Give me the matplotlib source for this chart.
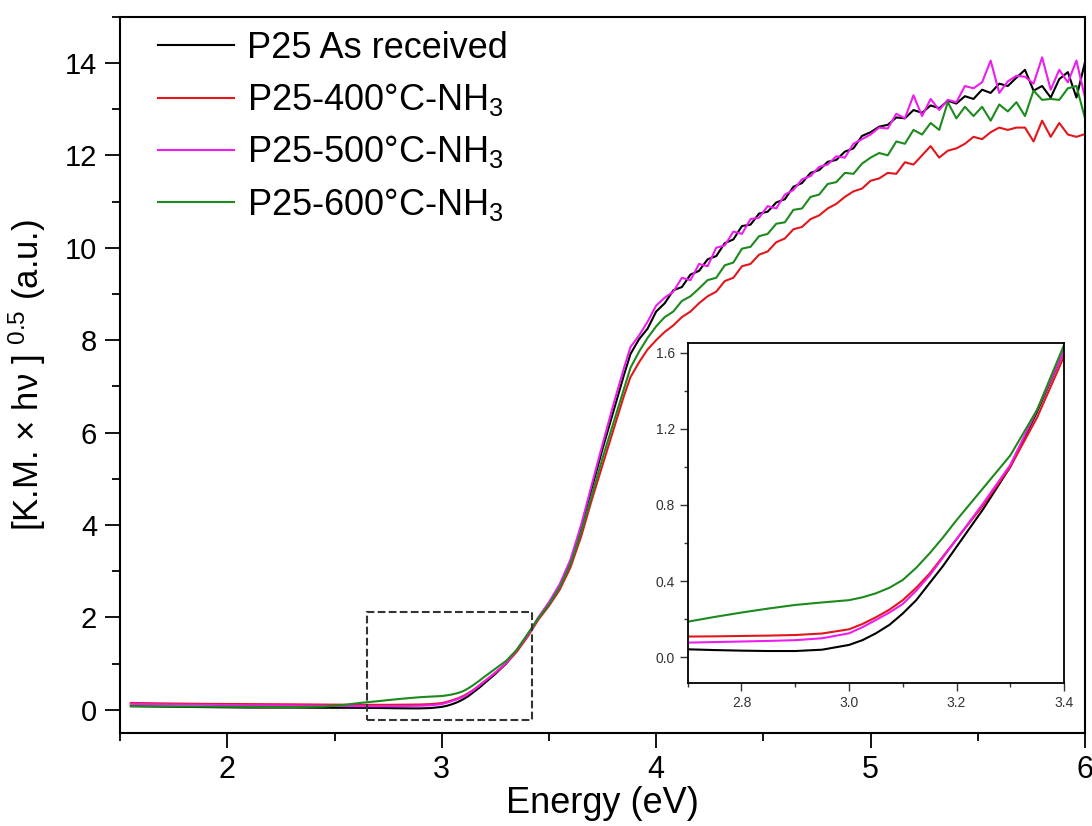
import numpy as np
import matplotlib
matplotlib.use("Agg")
import matplotlib.pyplot as plt
from matplotlib.patches import Rectangle
from matplotlib.ticker import MultipleLocator
from matplotlib import font_manager

names = {f.name for f in font_manager.fontManager.ttflist}
fam = [f for f in ['Liberation Sans Narrow', 'Liberation Sans', 'DejaVu Sans'] if f in names]
plt.rcParams['font.family'] = fam
plt.rcParams['mathtext.fontset'] = 'custom'
plt.rcParams['mathtext.rm'] = fam[0]
plt.rcParams['mathtext.it'] = fam[0] + ':italic'

# energy grid (eV): coarse in the flat part, finer at the edge, 0.04 steps above 3.9
energy_low = [1.55, 1.7, 1.9, 2.1, 2.3, 2.45, 2.55, 2.6, 2.65, 2.7, 2.75, 2.8, 2.85,
              2.9, 2.95, 3.0, 3.025, 3.05, 3.075, 3.1, 3.125, 3.15, 3.175, 3.2, 3.25,
              3.3, 3.35, 3.4, 3.45, 3.5, 3.55, 3.6, 3.65, 3.7, 3.75, 3.8, 3.85, 3.88]
energy_high = np.round(np.arange(3.92, 6.001, 0.04), 2)
energy = np.concatenate([energy_low, energy_high])

black_low = [0.08, 0.07, 0.06, 0.05, 0.05, 0.045, 0.045, 0.044, 0.043, 0.042, 0.038, 0.035, 0.033,
             0.033, 0.04, 0.065, 0.09, 0.126, 0.17, 0.23, 0.30, 0.39, 0.48, 0.58, 0.78,
             1.0, 1.29, 1.61, 1.98, 2.3, 2.68, 3.2, 3.95, 4.8, 5.65, 6.45, 7.25, 7.7]
black_high = [8.02, 8.25, 8.62, 8.80, 9.08, 9.15, 9.42, 9.50, 9.75, 9.82, 10.10, 10.18, 10.47,
              10.50, 10.74, 10.78, 10.98, 11.05, 11.32, 11.40, 11.62, 11.68, 11.86, 11.90,
              12.08, 12.15, 12.42, 12.50, 12.62, 12.66, 12.82, 12.80, 12.98, 12.92, 13.08,
              13.02, 13.18, 13.12, 13.28, 13.22, 13.42, 13.35, 13.55, 13.50, 13.68, 13.85,
              13.40, 13.50, 13.25, 13.65, 13.80, 13.25, 14.02]

red_low = [0.15, 0.14, 0.13, 0.125, 0.12, 0.115, 0.112, 0.11, 0.11, 0.109, 0.11, 0.112, 0.114,
           0.117, 0.125, 0.147, 0.175, 0.21, 0.25, 0.30, 0.365, 0.44, 0.53, 0.62, 0.80,
           1.0, 1.26, 1.58, 1.95, 2.25, 2.6, 3.08, 3.75, 4.55, 5.3, 6.05, 6.8, 7.2]
red_high = [7.52, 7.80, 8.00, 8.18, 8.32, 8.50, 8.62, 8.80, 8.95, 9.05, 9.28, 9.35, 9.60,
            9.65, 9.85, 9.92, 10.12, 10.20, 10.40, 10.45, 10.62, 10.70, 10.85, 10.95,
            11.10, 11.22, 11.28, 11.45, 11.50, 11.62, 11.60, 11.85, 11.80, 12.00, 12.20,
            11.95, 12.10, 12.15, 12.25, 12.40, 12.35, 12.50, 12.60, 12.55, 12.60, 12.60,
            12.30, 12.75, 12.40, 12.70, 12.45, 12.40, 12.46]

magenta_low = [0.13, 0.12, 0.11, 0.10, 0.095, 0.09, 0.085, 0.082, 0.08, 0.077, 0.08, 0.083, 0.086,
               0.09, 0.10, 0.126, 0.158, 0.196, 0.235, 0.28, 0.35, 0.43, 0.525, 0.62, 0.81,
               1.01, 1.30, 1.61, 2.0, 2.33, 2.72, 3.25, 4.0, 4.88, 5.75, 6.6, 7.4, 7.85]
magenta_high = [8.10, 8.40, 8.75, 8.92, 9.05, 9.35, 9.30, 9.65, 9.60, 10.00, 10.05, 10.35, 10.30,
                10.62, 10.65, 10.90, 10.85, 11.15, 11.25, 11.48, 11.55, 11.75, 11.80, 11.98,
                11.95, 12.25, 12.35, 12.45, 12.60, 12.58, 12.90, 12.80, 13.30, 12.85, 13.22,
                12.98, 13.20, 13.15, 13.50, 13.45, 13.58, 14.05, 13.35, 13.60, 13.72, 13.70,
                13.55, 14.12, 13.42, 13.85, 13.58, 14.05, 13.25]

green_low = [0.08, 0.075, 0.07, 0.065, 0.06, 0.07, 0.11, 0.14, 0.165, 0.187, 0.212, 0.235, 0.256,
             0.275, 0.288, 0.30, 0.315, 0.336, 0.365, 0.406, 0.47, 0.546, 0.63, 0.72, 0.89,
             1.06, 1.30, 1.64, 1.98, 2.28, 2.65, 3.15, 3.85, 4.65, 5.45, 6.2, 6.95, 7.4]
green_high = [7.75, 8.05, 8.30, 8.50, 8.62, 8.85, 8.95, 9.12, 9.30, 9.35, 9.62, 9.68, 9.98,
              10.02, 10.25, 10.30, 10.52, 10.55, 10.82, 10.85, 11.10, 11.15, 11.38, 11.42,
              11.62, 11.60, 11.82, 11.95, 12.05, 12.00, 12.30, 12.25, 12.55, 12.45, 12.70,
              12.55, 13.15, 12.80, 13.05, 12.85, 13.05, 12.75, 13.10, 12.95, 13.15, 12.85,
              13.40, 13.20, 13.22, 13.20, 13.45, 13.50, 12.80]

labels = ['P25 As received', r'P25-400°C-NH$_3$', r'P25-500°C-NH$_3$', r'P25-600°C-NH$_3$']
colors = ['#000000', '#e3161b', '#ee1cee', '#1c8a1c']
series = [black_low + black_high, red_low + red_high,
          magenta_low + magenta_high, green_low + green_high]

fig = plt.figure(figsize=(10.92, 8.26), dpi=100)
ax = fig.add_axes([0.110, 0.1126, 0.8836, 0.8672])

for y, c, lab in zip(series, colors, labels):
    ax.plot(energy, y, color=c, lw=1.5, label=lab)

ax.set_xlim(1.5, 6.0)
ax.set_ylim(-0.5, 15.0)
ax.xaxis.set_major_locator(MultipleLocator(1))
ax.xaxis.set_minor_locator(MultipleLocator(0.5))
ax.yaxis.set_major_locator(MultipleLocator(2))
ax.yaxis.set_minor_locator(MultipleLocator(1))
ax.tick_params(which='both', direction='out', width=1.3)
ax.tick_params(which='major', length=10.5)
ax.tick_params(which='minor', length=5.5)
ax.tick_params(axis='y', which='major', labelsize=21, pad=6)
ax.tick_params(axis='x', which='major', labelsize=22, pad=5)
for s in ax.spines.values():
    s.set_linewidth(1.5)
ax.set_xlabel('Energy (eV)', fontsize=26, labelpad=1)
ax.set_ylabel(r'[K.M. × hν ] $^{0.5}$ (a.u.)', fontsize=25, labelpad=12)

leg = ax.legend(loc='upper left', frameon=False, fontsize=26, handlelength=2.1,
                handletextpad=0.36, labelspacing=0.42, borderaxespad=0.0,
                bbox_to_anchor=(0.024, 1.0))

# zoom box on main plot
ax.add_patch(Rectangle((2.65, -0.22), 0.77, 2.33, fill=False, ls='--', lw=1.5,
                       edgecolor='#333333', zorder=5))

# inset
axin = fig.add_axes([0.6298, 0.1731, 0.3446, 0.4116])
for y, c in zip(series, colors):
    axin.plot(energy, y, color=c, lw=1.5)
axin.set_xlim(2.7, 3.4)
axin.set_ylim(-0.135, 1.65)
axin.xaxis.set_minor_locator(MultipleLocator(0.1))
axin.yaxis.set_minor_locator(MultipleLocator(0.2))
axin.set_xticks([2.8, 3.0, 3.2, 3.4])
axin.set_xticklabels(['2.8', '3.0', '3.2', '3.4'])
axin.set_yticks([0.0, 0.4, 0.8, 1.2, 1.6])
axin.set_yticklabels(['0.0', '0.4', '0.8', '1.2', '1.6'])
axin.tick_params(which='both', direction='out', width=1.0, colors='#333333')
axin.tick_params(which='major', length=5.5, labelsize=10)
axin.tick_params(which='minor', length=3)
for s in axin.spines.values():
    s.set_linewidth(1.3)

fig.savefig('out.png', dpi=100)
